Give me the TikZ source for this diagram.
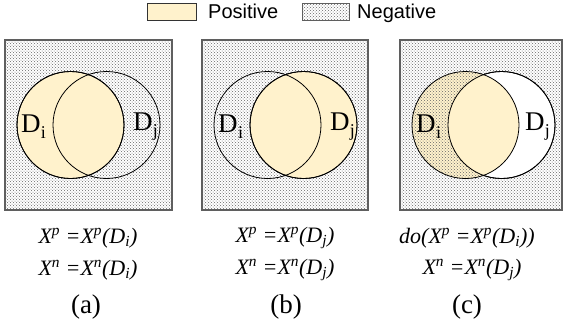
\documentclass[tikz,border=0pt]{standalone}
\usepackage{fontspec}
\setmainfont{Liberation Serif}
\newfontfamily\legendfont{Liberation Sans}
\usetikzlibrary{patterns}
\definecolor{poscol}{RGB}{255,242,204}
\definecolor{boxgray}{RGB}{95,95,95}
\newcommand{\Dlab}[1]{D\kern0.3pt\raisebox{-6pt}{\fontsize{18}{20}\selectfont #1}}
\newcommand{\Xs}[1]{X\textsuperscript{#1}}
\newcommand{\Ds}[1]{D\textsubscript{#1}}
\begin{document}
\begin{tikzpicture}[x=1pt,y=-1pt,
  negfill/.style={pattern=crosshatch dots, pattern color=black!60},
  negbox/.style={draw=boxgray, line width=1.2pt, negfill},
  circ/.style={circle, draw=black, line width=0.8pt, minimum size=107pt, inner sep=0pt},
  lbl/.style={font=\fontsize{27}{30}\selectfont, inner sep=0pt},
  eqn/.style={font=\fontsize{22}{24}\selectfont\itshape, inner sep=0pt},
  capt/.style={font=\fontsize{27}{30}\selectfont, inner sep=0pt},
  legtxt/.style={font=\legendfont\fontsize{20}{22}\selectfont, inner sep=0pt, anchor=base west}
]
\useasboundingbox (0,0) rectangle (563,333);
% legend
\node[draw=black!80, line width=1pt, fill=poscol, minimum width=49pt, minimum height=17pt, inner sep=0pt] (lp) at (171.5,11.5) {};
\node[legtxt] (lpt) at (208,18.7) {Positive};
\node[draw=boxgray, line width=1pt, negfill, minimum width=47pt, minimum height=17pt, inner sep=0pt] (ln) at (325.5,11.5) {};
\node[legtxt] (lnt) at (357,18.7) {Negative};

% panel (a)
\node[negbox, minimum width=167pt, minimum height=170pt, inner sep=0pt] (boxa) at (88.5,125) {};
\node[circ, fill=poscol] (ai) at (70.5,125) {};
\node[circ] (aj) at (106.5,125) {};
\draw[line width=0.8pt] (70.5,125) circle (53.5);
\node[lbl, anchor=west] (ail) at (21,127) {\Dlab{i}};
\node[lbl, anchor=east] (ajl) at (158,127) {\Dlab{j}};
\node[eqn] (ae1) at (88,238) {\Xs{p} =\Xs{p}(\Ds{i})};
\node[eqn] (ae2) at (88,270) {\Xs{n} =\Xs{n}(\Ds{i})};
\node[capt] (ac) at (86,307) {(a)};

% panel (b)
\node[negbox, minimum width=166pt, minimum height=170pt, inner sep=0pt] (boxb) at (285,125) {};
\node[circ, fill=poscol] (bj) at (303.5,125) {};
\node[circ] (bi) at (267.5,125) {};
\draw[line width=0.8pt] (303.5,125) circle (53.5);
\node[lbl, anchor=west] (bil) at (218,127) {\Dlab{i}};
\node[lbl, anchor=east] (bjl) at (355,127) {\Dlab{j}};
\node[eqn] (be1) at (285,238) {\Xs{p} =\Xs{p}(\Ds{j})};
\node[eqn] (be2) at (285,270) {\Xs{n} =\Xs{n}(\Ds{j})};
\node[capt] (bc) at (286,307) {(b)};

% panel (c)
\node[negbox, minimum width=162pt, minimum height=170pt, inner sep=0pt] (boxc) at (481,125) {};
\node[circ, fill=white] (cj) at (501.5,125) {};
\fill[poscol] (465.5,125) circle (53.5);
\fill[negfill] (465.5,125) circle (53.5);
\begin{scope}
  \clip (501.5,125) circle (53.5);
  \fill[poscol] (465.5,125) circle (53.5);
\end{scope}
\node[circ] (ci) at (465.5,125) {};
\draw[line width=0.8pt] (501.5,125) circle (53.5);
\node[lbl, anchor=west] (cil) at (416,127) {\Dlab{i}};
\node[lbl, anchor=east] (cjl) at (550,127) {\Dlab{j}};
\node[eqn] (ce1) at (467,238) {do(\Xs{p} =\Xs{p}(\Ds{i}))};
\node[eqn] (ce2) at (472,270) {\Xs{n} =\Xs{n}(\Ds{j})};
\node[capt] (cc) at (467,307) {(c)};
\end{tikzpicture}
\end{document}
